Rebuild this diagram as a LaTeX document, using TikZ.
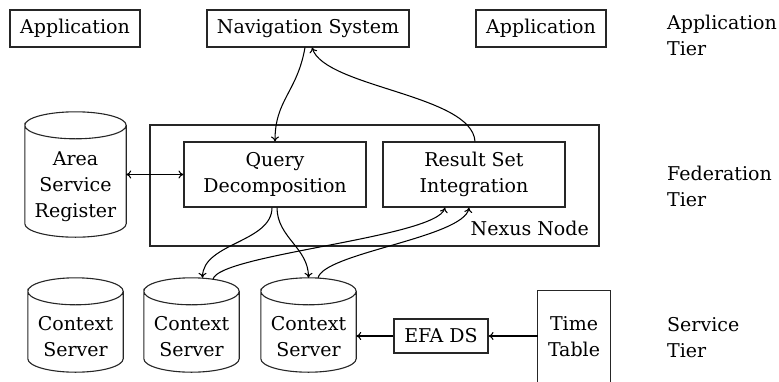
\documentclass[tikz,border=0pt]{standalone}
\usepackage{fontspec}
\setmainfont{DejaVu Serif}
\usetikzlibrary{calc,arrows.meta}

% outline of a drum (database cylinder) around a named node
\newcommand\drumline[1]{%
  \draw[outline] let \p1=(#1.north west), \p2=(#1.south east), \n1={0.5*(\x2-\x1)} in
    (\x1,\y1-13.5pt) arc[start angle=180, end angle=-180, x radius=\n1, y radius=13.5pt]
    -- (\x1,\y2+13.5pt) arc[start angle=180, end angle=360, x radius=\n1, y radius=13.5pt]
    -- (\x2,\y1-13.5pt);}

\begin{document}
\begin{tikzpicture}[x=1pt, y=-1pt,
  font=\fontsize{19}{26}\selectfont,
  outline/.style={line width=1.1pt, draw=black!85},
  box/.style={draw=black!85, line width=1.1pt, inner sep=0pt, align=center},
  plain/.style={inner sep=0pt, align=center},
  tier/.style={inner sep=0pt, align=left, anchor=base west},
  conn/.style={line width=1.05pt, -{To[length=5pt,width=8pt]}},
  both/.style={line width=1.05pt, {To[length=5pt,width=8pt]}-{To[length=5pt,width=8pt]}}]
\useasboundingbox (0,0) rectangle (779,381);

% application tier
\node[box, minimum width=130, minimum height=37] (app1) at (75,28.5) {Application};
\node[box, minimum width=202, minimum height=37] (nav) at (308,28.5) {Navigation System};
\node[box, minimum width=130, minimum height=37] (app2) at (541,28.5) {Application};

% federation tier
\node[box, minimum width=449, minimum height=121] (nexus) at (374.5,185.5) {};
\node[plain, anchor=base east] (nexuslbl) at (589,235) {Nexus Node};
\node[box, minimum width=182, minimum height=65] (qd) at (275,174.5) {Query\\Decomposition};
\node[box, minimum width=182, minimum height=65] (rsi) at (474,174.5) {Result Set\\Integration};

\node[plain, minimum width=101, minimum height=125] (asr) at (75.5,174.5) {};
\drumline{asr}
\node[plain] (asrtext) at ($(asr.center)+(0,12)$) {Area\\Service\\Register};

% service tier
\foreach \name/\cx in {cs1/75.5, cs2/191.5, cs3/308.5}{
  \node[plain, minimum width=95, minimum height=94] (\name) at (\cx,325) {};
  \drumline{\name}
  \node[plain] (\name text) at ($(\name.center)+(0,12)$) {Context\\Server};
}
\node[box, minimum width=94, minimum height=34] (efa) at (441,336) {EFA DS};
\node[plain, minimum width=72, minimum height=91] (tt) at (574,336.5) {Time\\Table};
\draw[outline] (tt.south west) -- (tt.north west) -- (tt.north east) -- (tt.south east);

% tier captions (base anchor sits on the last line)
\node[tier] (tierA) at (667,55) {Application\\Tier};
\node[tier] (tierF) at (667,206) {Federation\\Tier};
\node[tier] (tierS) at (667,357) {Service\\Tier};

% connectors
\draw[conn] ($(nav.south)+(-3,0)$) .. controls +(-8,45) and +(0,-42) .. (qd.north);
\draw[conn] ($(rsi.north)+(1,0)$) .. controls +(-3,-47) and +(13,40) .. ($(nav.south)+(4,0)$);
\draw[conn] ($(qd.south)+(-3,0)$) .. controls +(0,35) and +(0,-35) .. ($(cs2.north)+(11,0)$);
\draw[conn] ($(qd.south)+(2,0)$) .. controls +(0,30) and +(0,-30) .. (cs3.north);
\draw[conn] ($(cs2.north)+(21.5,1.5)$) .. controls +(5,-25) and +(-8,30) .. ($(rsi.south)+(-29,0)$);
\draw[conn] ($(cs3.north)+(9.5,0.3)$) .. controls +(5,-25) and +(-5,30) .. ($(rsi.south)+(-5,0)$);
\draw[both] (asr.east) -- (qd.west);
\draw[conn] (efa.east -| tt.west) -- (efa.east);
\draw[conn] (efa.west) -- (efa.west -| cs3.east);
\end{tikzpicture}
\end{document}
